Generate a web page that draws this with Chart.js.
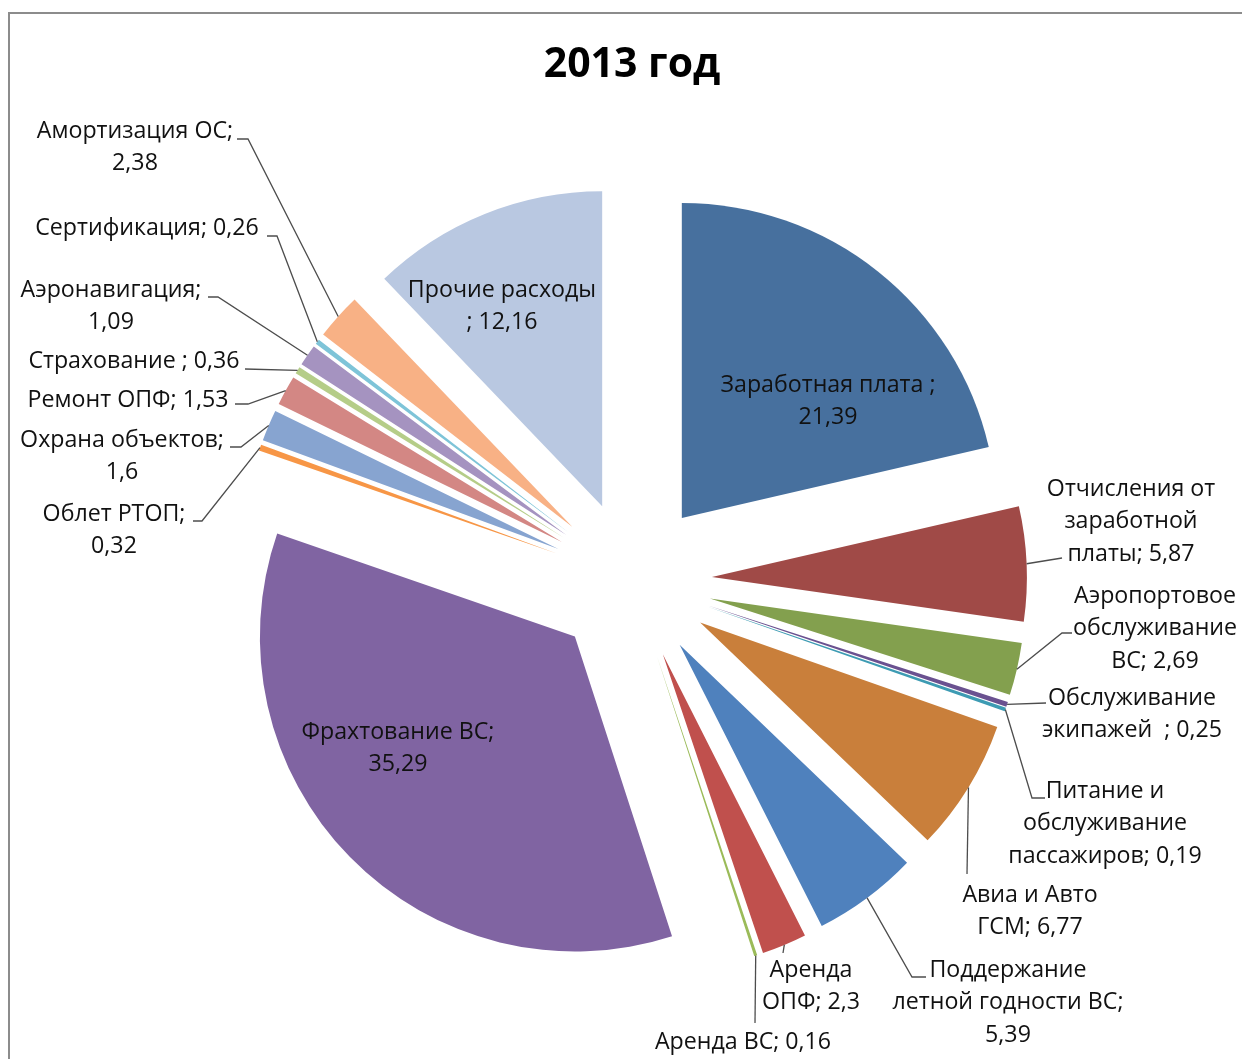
<!DOCTYPE html>
<html>
<head>
<meta charset="utf-8">
<script src="https://cdn.jsdelivr.net/npm/chart.js@4.4.1/dist/chart.umd.min.js"></script>
<style>
  html, body { margin: 0; padding: 0; background: #ffffff; }
  #wrap { width: 1242px; height: 1059px; position: relative; }
</style>
</head>
<body>
<div id="wrap"><canvas id="c" width="1242" height="1059"></canvas></div>
<script>
// ---- data ----
const TITLE = '2013 год';
const categories = [
  'Заработная плата ',
  'Отчисления от заработной платы',
  'Аэропортовое обслуживание ВС',
  'Обслуживание экипажей  ',
  'Питание и обслуживание пассажиров',
  'Авиа и Авто ГСМ',
  'Поддержание летной годности ВС',
  'Аренда ОПФ',
  'Аренда ВС',
  'Фрахтование ВС',
  'Облет РТОП',
  'Охрана объектов',
  'Ремонт ОПФ',
  'Страхование ',
  'Аэронавигация',
  'Сертификация',
  'Амортизация ОС',
  'Прочие расходы '
];
const values = [21.39, 5.87, 2.69, 0.25, 0.19, 6.77, 5.39, 2.3, 0.16, 35.29, 0.32, 1.6, 1.53, 0.36, 1.09, 0.26, 2.38, 12.16];

// ---- styles / layout ----
const colors = [
  '#47709E', '#A04A47', '#83A04E', '#6A5190', '#3D9BB3', '#C97F3B',
  '#4F81BD', '#C0504D', '#9BBB59', '#8064A2', '#F79646', '#87A4D0',
  '#D38784', '#B5CD88', '#A593C0', '#7EC4D8', '#F8B185', '#B9C8E1'
];
const RADIUS = 315;
const EXPLODE = 80;
const LABEL_FONT = '23.2px "Open Sans"';
const LINE_H = 32.5;
// words per line for each label, anchor (center of first line), leader points (towards label)
const labelLayout = [
  { at: [828, 385], wrap: [3, 1], leader: null },
  { at: [1131, 489], wrap: [2, 1, 2], leader: [[1062, 558]] },
  { at: [1155, 596], wrap: [1, 1, 2], leader: [[1062, 633], [1072, 633]] },
  { at: [1132, 698], wrap: [1, 4], leader: [[1046, 703]] },
  { at: [1105, 791], wrap: [2, 1, 2], leader: [[1032, 798], [1045, 798]] },
  { at: [1030, 895], wrap: [3, 2], leader: [[967, 874]] },
  { at: [1008, 970], wrap: [1, 3, 1], leader: [[912, 977], [926, 977]] },
  { at: [811, 970], wrap: [1, 2], leader: [[783, 953]] },
  { at: [743, 1042], wrap: [3], leader: [[755, 1023]] },
  { at: [398, 732], wrap: [2, 1], leader: null },
  { at: [114, 514], wrap: [2, 1], leader: [[202, 521], [193, 521]] },
  { at: [122, 440], wrap: [2, 1], leader: [[241, 447], [230, 447]] },
  { at: [128, 400], wrap: [3], leader: [[248, 404], [235, 404]] },
  { at: [134, 361], wrap: [3], leader: [[245, 369]] },
  { at: [111, 290], wrap: [1, 1], leader: [[218, 297], [208, 297]] },
  { at: [147, 228], wrap: [2], leader: [[277, 236], [267, 236]] },
  { at: [135, 131], wrap: [2, 1], leader: [[248, 139], [237, 139]] },
  { at: [502, 290], wrap: [2, 2], leader: null }
];

function fmt(v) { return String(v).replace('.', ','); }
function labelLines(i) {
  const words = (categories[i] + '; ' + fmt(values[i])).split(' ');
  const out = []; let k = 0;
  labelLayout[i].wrap.forEach(n => { out.push(words.slice(k, k + n).join(' ')); k += n; });
  return out;
}

const framePlugin = {
  id: 'frame',
  beforeDraw(chart) {
    const ctx = chart.ctx;
    ctx.save();
    ctx.fillStyle = '#ffffff';
    ctx.fillRect(0, 0, chart.width, chart.height);
    ctx.strokeStyle = '#8c8c8c';
    ctx.lineWidth = 2;
    ctx.beginPath();
    ctx.moveTo(9, chart.height + 5);
    ctx.lineTo(9, 13);
    ctx.lineTo(chart.width + 5, 13);
    ctx.stroke();
    ctx.restore();
  }
};

const explodePlugin = {
  id: 'explode',
  beforeDatasetsDraw(chart) {
    chart.getDatasetMeta(0).data.forEach(arc => {
      const p = arc.getProps(['x', 'y', 'startAngle', 'endAngle']);
      const mid = (p.startAngle + p.endAngle) / 2;
      arc.$base = { x: p.x, y: p.y };
      arc.x = p.x + Math.cos(mid) * EXPLODE;
      arc.y = p.y + Math.sin(mid) * EXPLODE;
    });
  },
  afterDatasetsDraw(chart) {
    const ctx = chart.ctx;
    const arcs = chart.getDatasetMeta(0).data;
    ctx.save();
    // leader lines
    ctx.strokeStyle = '#4d4d4d';
    ctx.lineWidth = 1.3;
    arcs.forEach((arc, i) => {
      const L = labelLayout[i];
      if (!L.leader) return;
      const mid = (arc.startAngle + arc.endAngle) / 2;
      const sx = arc.x + Math.cos(mid) * arc.outerRadius;
      const sy = arc.y + Math.sin(mid) * arc.outerRadius;
      ctx.beginPath();
      ctx.moveTo(sx, sy);
      L.leader.forEach(pt => ctx.lineTo(pt[0], pt[1]));
      ctx.stroke();
    });
    // labels
    ctx.fillStyle = '#111111';
    ctx.font = LABEL_FONT;
    ctx.textAlign = 'center';
    ctx.textBaseline = 'middle';
    arcs.forEach((arc, i) => {
      const L = labelLayout[i];
      labelLines(i).forEach((t, j) => ctx.fillText(t, L.at[0], L.at[1] + j * LINE_H));
    });
    ctx.restore();
    arcs.forEach(arc => { if (arc.$base) { arc.x = arc.$base.x; arc.y = arc.$base.y; } });
  }
};

new Chart(document.getElementById('c'), {
  type: 'pie',
  data: {
    labels: categories,
    datasets: [{
      data: values,
      backgroundColor: colors,
      borderWidth: 0,
      radius: RADIUS
    }]
  },
  options: {
    responsive: false,
    animation: false,
    devicePixelRatio: 1,
    radius: RADIUS,
    layout: { padding: { top: 0, left: 22, right: 0, bottom: 0 } },
    plugins: {
      legend: { display: false },
      tooltip: { enabled: false },
      title: {
        display: true,
        text: TITLE,
        color: '#000000',
        font: { family: 'Open Sans', size: 41, weight: 'bold', lineHeight: 1.2 },
        padding: { top: 41, bottom: 11.8 }
      }
    }
  },
  plugins: [framePlugin, explodePlugin]
});
</script>
</body>
</html>
